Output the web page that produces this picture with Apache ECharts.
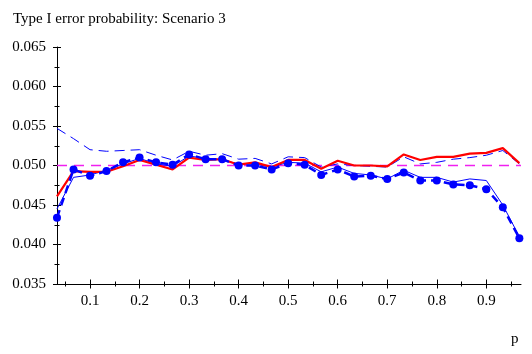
<!DOCTYPE html>
<html>
<head>
<meta charset="utf-8">
<script src="https://cdn.jsdelivr.net/npm/echarts@6/dist/echarts.min.js"></script>
<style>
  html, body { margin: 0; padding: 0; background: #fff; }
</style>
</head>
<body>
<div id="chart" style="width: 532px; height: 354px"></div>
<script>
// p values (k/30)
const pValues = [0.0333, 0.0667, 0.1, 0.1333, 0.1667, 0.2, 0.2333, 0.2667, 0.3, 0.3333,
  0.3667, 0.4, 0.4333, 0.4667, 0.5, 0.5333, 0.5667, 0.6, 0.6333, 0.6667,
  0.7, 0.7333, 0.7667, 0.8, 0.8333, 0.8667, 0.9, 0.9333, 0.9667];

// thin solid blue
const thinBlue = [0.0445, 0.0485, 0.0488, 0.0494, 0.0502, 0.0509, 0.0502, 0.0499, 0.0512, 0.0509,
  0.0507, 0.0502, 0.0502, 0.0498, 0.0504, 0.0503, 0.0492, 0.0498, 0.0490, 0.0488,
  0.0483, 0.0494, 0.0485, 0.0485, 0.0479, 0.0483, 0.0481, 0.0450, 0.0410];

// thick dashed blue with dots
const dotBlue = [0.0434, 0.0495, 0.0487, 0.0493, 0.0504, 0.0510, 0.0504, 0.0501, 0.0514, 0.0508,
  0.0508, 0.0500, 0.0500, 0.0495, 0.0503, 0.0501, 0.0488, 0.0495, 0.0486, 0.0487,
  0.0483, 0.0491, 0.0481, 0.0481, 0.0476, 0.0475, 0.0470, 0.0447, 0.0408];

// thin dashed blue
const dashBlue = [0.0547, 0.0534, 0.0520, 0.0518, 0.0519, 0.0520, 0.0513, 0.0507, 0.0518, 0.0513,
  0.0515, 0.0508, 0.0509, 0.0502, 0.0511, 0.0510, 0.0498, 0.0502, 0.0500, 0.0499,
  0.0498, 0.0511, 0.0502, 0.0504, 0.0508, 0.0510, 0.0513, 0.0519, 0.0502];

// red
const redLine = [0.0461, 0.0493, 0.0492, 0.0492, 0.0499, 0.0507, 0.0501, 0.0495, 0.0510, 0.0507,
  0.0508, 0.0501, 0.0504, 0.0498, 0.0507, 0.0507, 0.0496, 0.0506, 0.0500, 0.0500,
  0.0499, 0.0514, 0.0507, 0.0511, 0.0511, 0.0515, 0.0516, 0.0522, 0.0503];

const nominal = 0.05;
const xMajor = [0.1, 0.2, 0.3, 0.4, 0.5, 0.6, 0.7, 0.8, 0.9];
const xMinor = [0.05, 0.15, 0.25, 0.35, 0.45, 0.55, 0.65, 0.75, 0.85, 0.95];

const font = "'Liberation Serif', 'DejaVu Serif', serif";
const pairs = (ys) => pValues.map((p, i) => [p, ys[i]]);

const chart = echarts.init(document.getElementById("chart"));

function xAx(ticks, len, inside, main) {
  return {
    type: "value",
    min: 1 / 30,
    max: 0.97,
    position: "bottom",
    axisLine: { show: main, onZero: false, lineStyle: { color: "#000", width: 1 } },
    axisTick: { show: true, inside: inside, length: len, customValues: ticks, lineStyle: { color: "#000" } },
    axisLabel: main
      ? { show: true, customValues: xMajor, margin: 10, color: "#000", fontFamily: font, fontSize: 15 }
      : { show: false },
    splitLine: { show: false },
  };
}

function yAx(inside, main) {
  return {
    type: "value",
    min: 0.035,
    max: 0.065,
    interval: 0.005,
    position: "left",
    axisLine: { show: main, onZero: false, lineStyle: { color: "#000", width: 1 } },
    axisTick: { show: true, inside: inside, length: 4, lineStyle: { color: "#000" } },
    minorTick: { show: true, splitNumber: 2, length: 2.5, lineStyle: { color: "#000" } },
    axisLabel: main
      ? { show: true, margin: 11, color: "#000", fontFamily: font, fontSize: 15, formatter: (v) => v.toFixed(3) }
      : { show: false },
    splitLine: { show: false },
  };
}

let option = {
  animation: false,
  backgroundColor: "#fff",
  title: {
    text: "Type I error probability: Scenario 3",
    left: 8,
    top: 7,
    textStyle: { fontFamily: font, fontSize: 15, fontWeight: "normal", color: "#000" },
  },
  grid: { left: 57, right: 11, top: 47, bottom: 70 },
  xAxis: [
    xAx(xMajor, 4.5, false, true),
    xAx(xMajor, 4.5, true, false),
    xAx(xMinor, 2.5, false, false),
    xAx(xMinor, 2.5, true, false),
  ],
  yAxis: [yAx(false, true), yAx(true, false)],
  graphic: [
    {
      type: "text",
      left: 511,
      top: 332,
      style: { text: "p", font: "15px " + font, fill: "#000" },
    },
  ],
  series: [
    {
      name: "nominal",
      type: "line",
      color: "#f020f0",
      data: [[1 / 30, nominal], [0.97, nominal]],
      showSymbol: false,
      itemStyle: { color: "#f020f0" },
      lineStyle: { color: "#f020f0", width: 1.3, type: [10, 7] },
      z: 1,
    },
    {
      name: "thin",
      type: "line",
      color: "#0000ff",
      data: pairs(thinBlue),
      showSymbol: false,
      lineStyle: { color: "#0000ff", width: 1 },
      z: 2,
    },
    {
      name: "dashed",
      type: "line",
      color: "#0000ff",
      data: pairs(dashBlue),
      showSymbol: false,
      lineStyle: { color: "#0000ff", width: 1, type: [10, 6] },
      z: 3,
    },
    {
      name: "red",
      type: "line",
      color: "#ff0000",
      data: pairs(redLine),
      showSymbol: false,
      lineStyle: { color: "#ff0000", width: 2.2 },
      z: 4,
    },
    {
      name: "dots",
      type: "line",
      color: "#0000ff",
      data: pairs(dotBlue),
      symbol: "circle",
      symbolSize: 8,
      itemStyle: { color: "#0000ff" },
      lineStyle: { color: "#0000ff", width: 2.5, type: [8, 5] },
      z: 5,
    },
  ],
};
chart.setOption(option, true);
</script>
</body>
</html>
